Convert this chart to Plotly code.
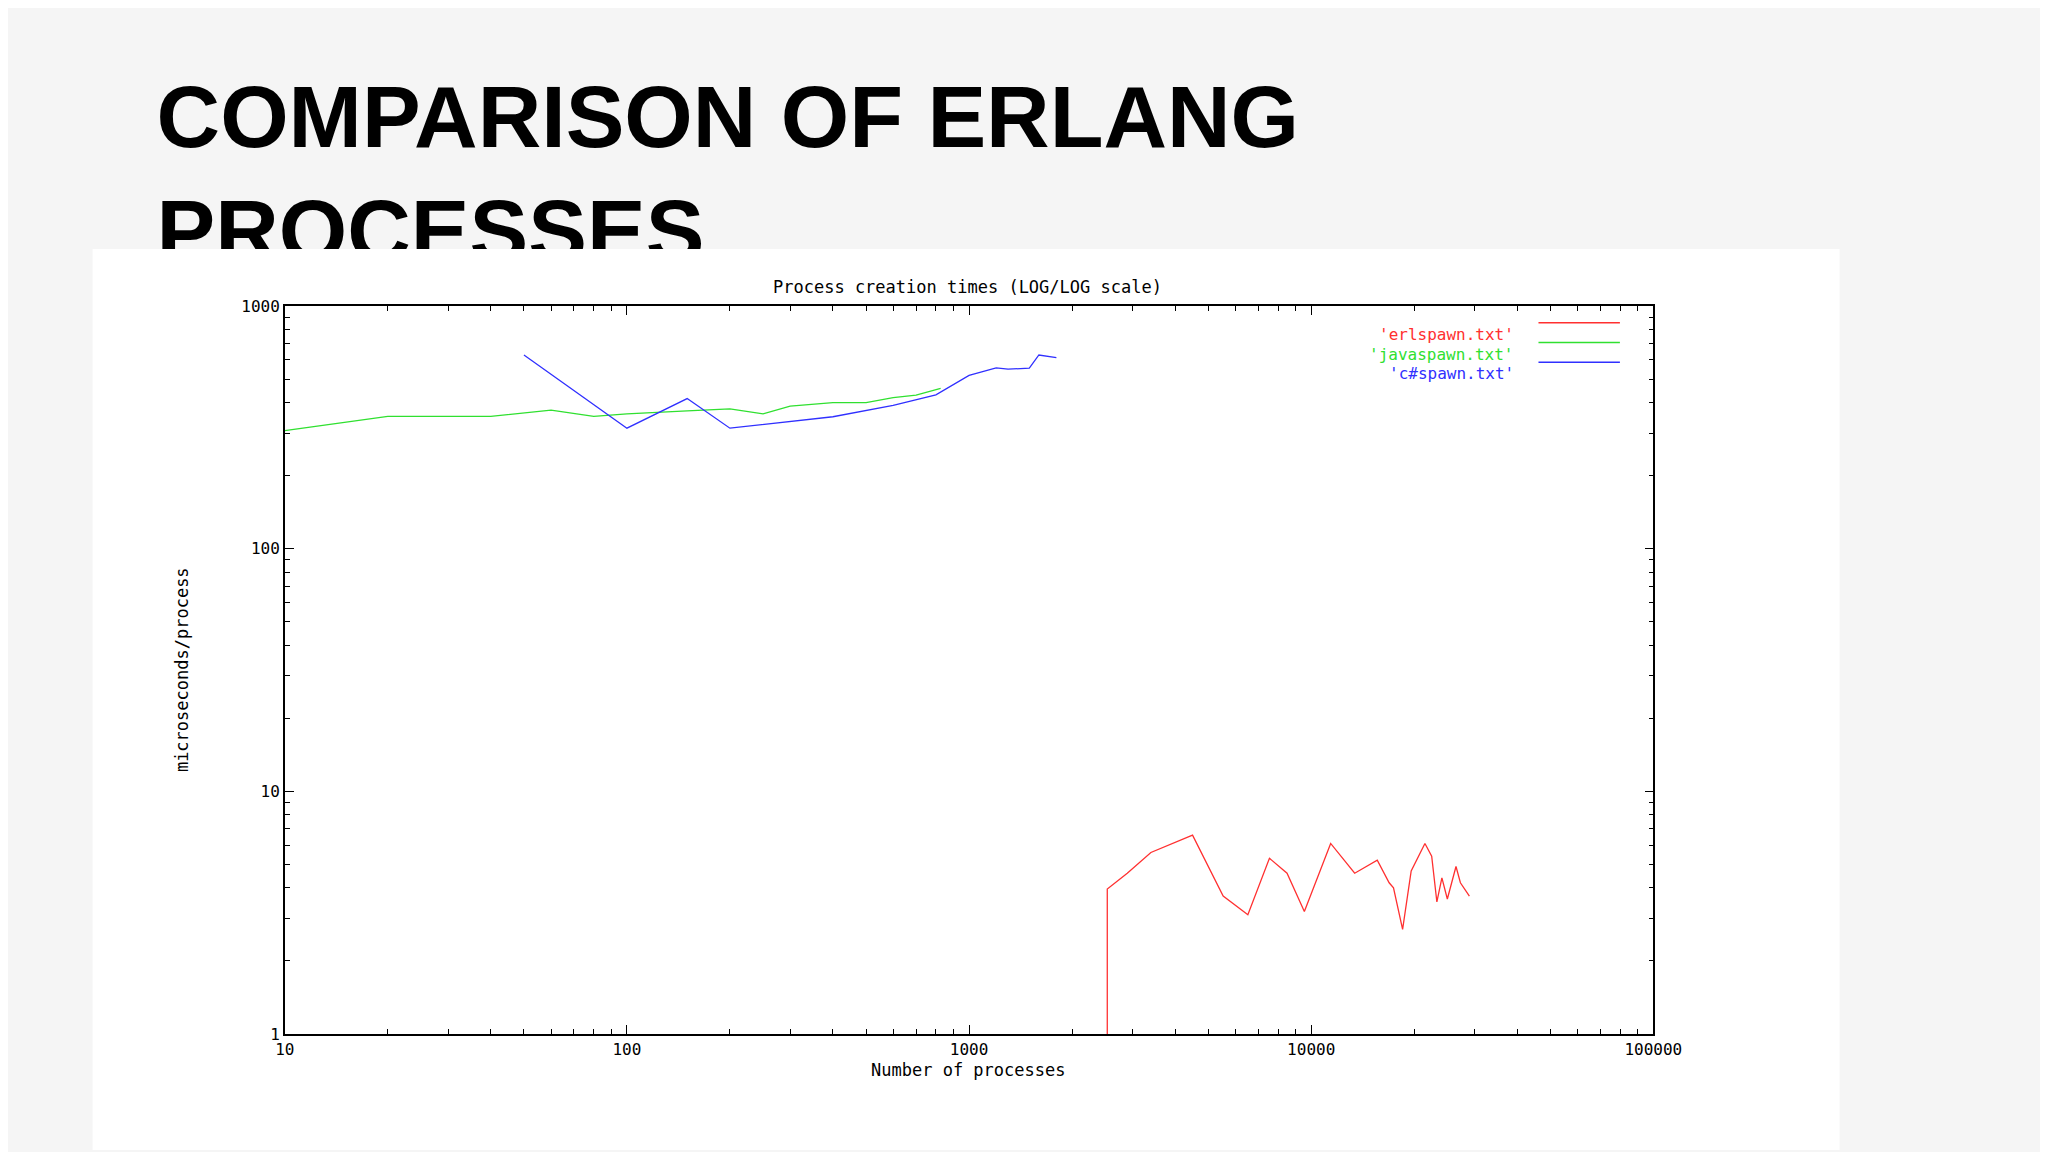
import plotly.graph_objects as go

java_x = [10, 20, 40, 60, 80, 100, 150, 200, 250, 300, 400, 500, 600, 700, 826]
java_y = [307, 351, 351, 373, 351, 360, 370, 377, 360, 387, 400, 400, 420, 430, 458]
cs_x = [50, 100, 150, 200, 400, 600, 800, 1000, 1200, 1300, 1500, 1600, 1800]
cs_y = [629, 314, 416, 314, 350, 390, 431, 518, 557, 550, 555, 629, 613]
erl_x = [2535, 2535, 2900, 3400, 4500, 5530, 6530, 7550, 8500, 9550, 11400, 13400, 15600,
         16900, 17400, 18500, 19600, 21500, 22500, 23300, 24100, 25000, 26500, 27300, 29000]
erl_y = [1, 3.96, 4.6, 5.6, 6.6, 3.7, 3.1, 5.3, 4.6, 3.2, 6.1, 4.6, 5.2,
         4.2, 4.0, 2.7, 4.7, 6.1, 5.4, 3.5, 4.4, 3.6, 4.9, 4.2, 3.7]
series = [("'erlspawn.txt'", erl_x, erl_y, "#ff3030"),
          ("'javaspawn.txt'", java_x, java_y, "#30e030"),
          ("'c#spawn.txt'", cs_x, cs_y, "#3030ff")]

mono = "DejaVu Sans Mono"
fig = go.Figure()
for name, xs, ys, c in series:
    fig.add_trace(go.Scatter(x=xs, y=ys, mode="lines", name=name,
                             line=dict(color=c, width=1.3), xaxis="x", yaxis="y"))

# Slide title, clipped by white panel via its own subplot
fig.add_trace(go.Scatter(x=[0], y=[0], mode="text", text=["<b>COMPARISON OF ERLANG<br>PROCESSES</b>"],
                         textposition="bottom right", cliponaxis=True, showlegend=False,
                         textfont=dict(family="Liberation Sans", size=88, color="#000"),
                         xaxis="x2", yaxis="y2", hoverinfo="skip"))

ax = dict(type="log", showgrid=False, zeroline=False, showline=True, linecolor="#000",
          linewidth=1.5, mirror="allticks", ticks="inside", ticklen=9, tickcolor="#000",
          tickfont=dict(family=mono, size=16, color="#000"),
          minor=dict(ticks="inside", ticklen=5, tickcolor="#000", showgrid=False, dtick="D1"))
fig.update_layout(
    width=2048, height=1152, margin=dict(l=0, r=0, t=0, b=0),
    paper_bgcolor="#f5f5f5", plot_bgcolor="rgba(0,0,0,0)", showlegend=False,
    xaxis=dict(ax, domain=[0.1328, 0.814], range=[1, 5], tickvals=[10, 100, 1000, 10000, 100000],
               ticktext=["10", "100", "1000", "10000", "100000"], anchor="y"),
    yaxis=dict(ax, domain=[0.1024, 0.7448], range=[0, 3], tickvals=[1, 10, 100, 1000],
               ticktext=["1", "10", "100", "1000"], anchor="x"),
    xaxis2=dict(domain=[0, 1], range=[-0.069, 0.931], visible=False, anchor="y2"),
    yaxis2=dict(domain=[1 - 236 / 1152, 1], range=[-1.37, 0.52], visible=False, anchor="x2"),
)
# white panel
fig.add_shape(type="rect", xref="paper", yref="paper", x0=76 / 2048, x1=1857 / 2048,
              y0=0, y1=1 - 236 / 1152, fillcolor="#ffffff", line_width=0, layer="below")

fig.add_annotation(text="Process creation times (LOG/LOG scale)", x=968 / 2048, y=1 - 262 / 1152,
                   xref="paper", yref="paper", showarrow=False,
                   font=dict(family=mono, size=17, color="#000"))
fig.add_annotation(text="Number of processes", x=968 / 2048, y=1 - 1083 / 1152,
                   xref="paper", yref="paper", showarrow=False,
                   font=dict(family=mono, size=17, color="#000"))
fig.add_annotation(text="microseconds/process", x=155 / 2048, y=1 - 664 / 1152, textangle=-90,
                   xref="paper", yref="paper", showarrow=False,
                   font=dict(family=mono, size=17, color="#000"))
# legend
for i, (name, xs, ys, c) in enumerate(series):
    yy = 1 - (311 + i * 20) / 1152
    fig.add_annotation(text=name, x=1527 / 2048, y=yy, xref="paper", yref="paper",
                       xanchor="right", showarrow=False, font=dict(family=mono, size=16, color=c))
    fig.add_shape(type="line", xref="paper", yref="paper", x0=1550 / 2048, x1=1633 / 2048,
                  y0=yy, y1=yy, line=dict(color=c, width=1.5))

fig.write_html("out.html")
